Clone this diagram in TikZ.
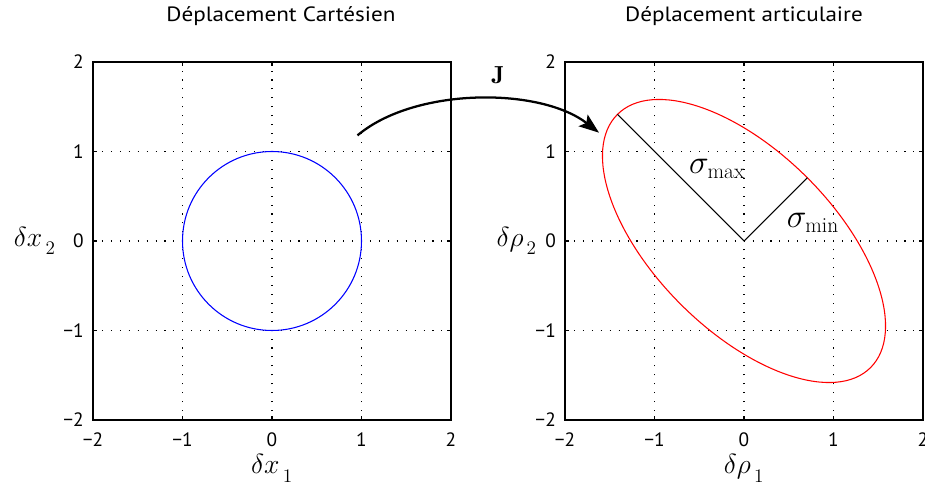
\documentclass[tikz,border=0pt]{standalone}
\usepackage{fontspec}
\newfontfamily\ticksf{PT Sans}
\newfontfamily\titlesf[FakeStretch=1.12]{PT Sans}
\usetikzlibrary{arrows.meta}
\newcommand{\lsub}[1]{_{\raisebox{-0.35ex}{$\scriptstyle\,#1$}}}
\begin{document}
\begin{tikzpicture}[x=0.75pt,y=-0.75pt,
  frame/.style={line width=1.1pt},
  gridline/.style={line width=0.8pt, dash pattern=on 0.8pt off 5.9pt},
  tickmark/.style={line width=0.8pt},
  ticklbl/.style={font=\ticksf\fontsize{14.5}{16}\selectfont, inner sep=0pt},
  titlelbl/.style={font=\titlesf\fontsize{15.5}{18}\selectfont, inner sep=0pt, anchor=base},
  axlbl/.style={font=\fontsize{20.5}{24}\selectfont, inner sep=0pt},
  siglbl/.style={font=\fontsize{23}{28}\selectfont, inner sep=0pt},
  curve/.style={line width=0.8pt}]
\useasboundingbox (0,0) rectangle (925,491);

% ---------- left plot ----------
\begin{scope}[shift={(272,241)}, x=67.125pt, y=67.125pt]
  \foreach \v in {-1,0,1} {
    \draw[gridline] (\v,-2) -- (\v,2);
    \draw[gridline] (-2,\v) -- (2,\v);
  }
  \foreach \v in {-2,-1,0,1,2} {
    \draw[tickmark] (\v,-2) -- ++(0,0.05);
    \draw[tickmark] (\v,2) -- ++(0,-0.05);
    \draw[tickmark] (-2,\v) -- ++(0.05,0);
    \draw[tickmark] (2,\v) -- ++(-0.05,0);
  }
  \draw[frame] (-2,-2) rectangle (2,2);
  \draw[curve, blue] (0,0) circle [radius=1];
  \foreach \v/\t in {-2/−2,-1/−1,0/0,1/1,2/2} {
    \node[ticklbl, anchor=east] (ly\v) at (-2.1,\v) {\t};
    \node[ticklbl] (lx\v) at (\v,-2.22) {\t};
  }
  \node[axlbl] (lxlab) at (0,-2.54) {$\delta x\lsub{1}$};
  \node[axlbl] (lylab) at (-2.65,0) {$\delta x\lsub{2}$};
  \node[titlelbl] (ltitle) at (0.1,2.45) {Déplacement Cartésien};
  \coordinate (arrS) at (0.955,1.18);
\end{scope}

% ---------- right plot ----------
\begin{scope}[shift={(744,241)}, x=67.125pt, y=67.125pt]
  \foreach \v in {-1,0,1} {
    \draw[gridline] (\v,-2) -- (\v,2);
    \draw[gridline] (-2,\v) -- (2,\v);
  }
  \foreach \v in {-2,-1,0,1,2} {
    \draw[tickmark] (\v,-2) -- ++(0,0.05);
    \draw[tickmark] (\v,2) -- ++(0,-0.05);
    \draw[tickmark] (-2,\v) -- ++(0.05,0);
    \draw[tickmark] (2,\v) -- ++(-0.05,0);
  }
  \draw[frame] (-2,-2) rectangle (2,2);
  \draw[curve, red] (0,0) ellipse [x radius=2, y radius=1, rotate=-45];
  \coordinate (O) at (0,0);
  \coordinate (smax) at (-1.4142,1.4142);
  \coordinate (smin) at (0.7071,0.7071);
  \draw[curve] (smax) -- (O) -- (smin);
  \node[siglbl] (lmax) at (-0.3,0.8) {$\sigma_{\max}$};
  \node[siglbl] (lmin) at (0.77,0.2) {$\sigma_{\min}$};
  \foreach \v/\t in {-2/−2,-1/−1,0/0,1/1,2/2} {
    \node[ticklbl, anchor=east] (ry\v) at (-2.1,\v) {\t};
    \node[ticklbl] (rx\v) at (\v,-2.22) {\t};
  }
  \node[axlbl] (rxlab) at (0,-2.54) {$\delta \rho\lsub{1}$};
  \node[axlbl] (rylab) at (-2.54,0) {$\delta \rho\lsub{2}$};
  \node[titlelbl] (rtitle) at (0,2.45) {Déplacement articulaire};
  \coordinate (arrE) at (-1.62,1.21);
\end{scope}

% ---------- arrow J ----------
\draw[line width=1.7pt, -{Stealth[length=15pt, width=11pt, inset=3pt]}]
  (arrS) .. controls (415,87) and (540,87) .. (arrE);
\node[font=\fontsize{18.5}{22}\selectfont, inner sep=0pt] (J) at (498,75) {$\mathbf{J}$};
\end{tikzpicture}
\end{document}
